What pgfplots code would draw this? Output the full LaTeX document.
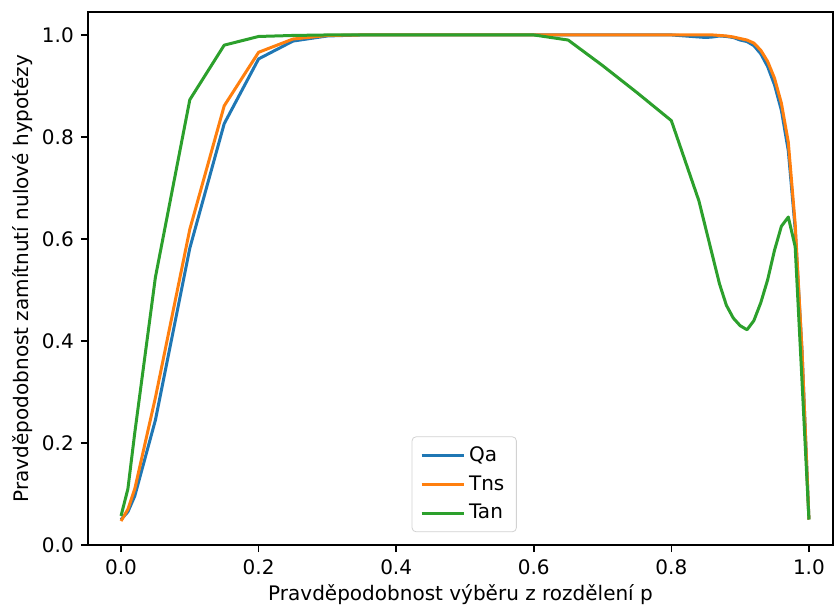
\documentclass[border=0pt]{standalone}
\usepackage{fontspec}
\setmainfont{DejaVu Sans}
\usepackage{pgfplots}
\pgfplotsset{compat=1.18}

\definecolor{mplblue}{HTML}{1F77B4}
\definecolor{mplorange}{HTML}{FF7F0E}
\definecolor{mplgreen}{HTML}{2CA02C}

\begin{document}
\begin{tikzpicture}
\begin{axis}[
    scale only axis,
    width=372.5pt, height=266.5pt,
    xmin=-0.048, xmax=1.035,
    ymin=0, ymax=1.045,
    xtick={0,0.2,...,1.0},
    ytick={0,0.2,...,1.0},
    xtick pos=left, ytick pos=left,
    tick align=outside,
    major tick length=3.6pt,
    every tick/.style={black, line width=0.8pt},
    axis line style={line width=0.8pt},
    tick label style={font=\fontsize{10}{12}\selectfont},
    /pgf/number format/assume math mode=true,
    /pgf/number format/fixed,
    /pgf/number format/fixed zerofill,
    /pgf/number format/precision=1,
    xlabel={Pravděpodobnost výběru z rozdělení p},
    ylabel={Pravděpodobnost zamítnutí nulové hypotézy},
    label style={font=\fontsize{10}{12}\selectfont},
    xlabel style={yshift=2pt},
    ylabel style={yshift=-2pt},
    legend style={
        at={(0.505,0.024)}, anchor=south,
        draw=gray!35, rounded corners=2pt,
        font=\fontsize{10}{12}\selectfont,
        row sep=1.5pt,
        inner xsep=4pt, inner ysep=3pt,
    },
    legend cell align=left,
    legend image post style={line width=1.5pt},
    legend image code/.code={\draw[#1] (0pt,0pt) -- (21pt,0pt);},
    every axis plot/.append style={line width=1.5pt, line join=round},
]
\addplot[mplblue, no marks] coordinates {
(0,0.05) (0.01,0.065) (0.02,0.096) (0.05,0.245) (0.1,0.582) (0.15,0.826)
(0.2,0.953) (0.25,0.988) (0.3,0.998) (0.35,1.0) (0.4,1.0) (0.45,1.0)
(0.5,1.0) (0.55,1.0) (0.6,1.0) (0.65,1.0) (0.7,1.0) (0.75,1.0) (0.8,1.0)
(0.85,0.995) (0.86,0.996) (0.87,0.998) (0.88,0.997) (0.89,0.995) (0.9,0.99)
(0.91,0.987) (0.92,0.979) (0.93,0.963) (0.94,0.938) (0.95,0.902)
(0.96,0.852) (0.97,0.773) (0.98,0.62) (0.99,0.38) (1.0,0.05)
};
\addlegendentry{Qa}
\addplot[mplorange, no marks] coordinates {
(0,0.047) (0.01,0.07) (0.02,0.11) (0.05,0.289) (0.1,0.619) (0.15,0.861)
(0.2,0.966) (0.25,0.992) (0.3,0.999) (0.35,1.0) (0.4,1.0) (0.45,1.0)
(0.5,1.0) (0.55,1.0) (0.6,1.0) (0.65,1.0) (0.7,1.0) (0.75,1.0) (0.8,1.0)
(0.85,1.0) (0.86,1.0) (0.87,0.999) (0.88,0.998) (0.89,0.996) (0.9,0.993)
(0.91,0.99) (0.92,0.984) (0.93,0.97) (0.94,0.948) (0.95,0.915)
(0.96,0.866) (0.97,0.79) (0.98,0.63) (0.99,0.38) (1.0,0.05)
};
\addlegendentry{Tns}
\addplot[mplgreen, no marks] coordinates {
(0,0.057) (0.01,0.11) (0.02,0.22) (0.05,0.525) (0.1,0.873) (0.15,0.98)
(0.2,0.997) (0.25,0.999) (0.3,1.0) (0.35,1.0) (0.4,1.0) (0.45,1.0)
(0.5,1.0) (0.55,1.0) (0.6,1.0) (0.65,0.99) (0.7,0.94) (0.75,0.887)
(0.8,0.832) (0.84,0.675) (0.87,0.512) (0.88,0.47) (0.89,0.445) (0.9,0.43)
(0.91,0.422) (0.92,0.44) (0.93,0.475) (0.94,0.52) (0.95,0.578)
(0.96,0.625) (0.97,0.643) (0.98,0.585) (0.99,0.32) (1.0,0.05)
};
\addlegendentry{Tan}
\end{axis}
\path (current axis.south west) ++(-44pt,-31pt) (current axis.north east) ++(1pt,6pt);
\end{tikzpicture}
\end{document}
